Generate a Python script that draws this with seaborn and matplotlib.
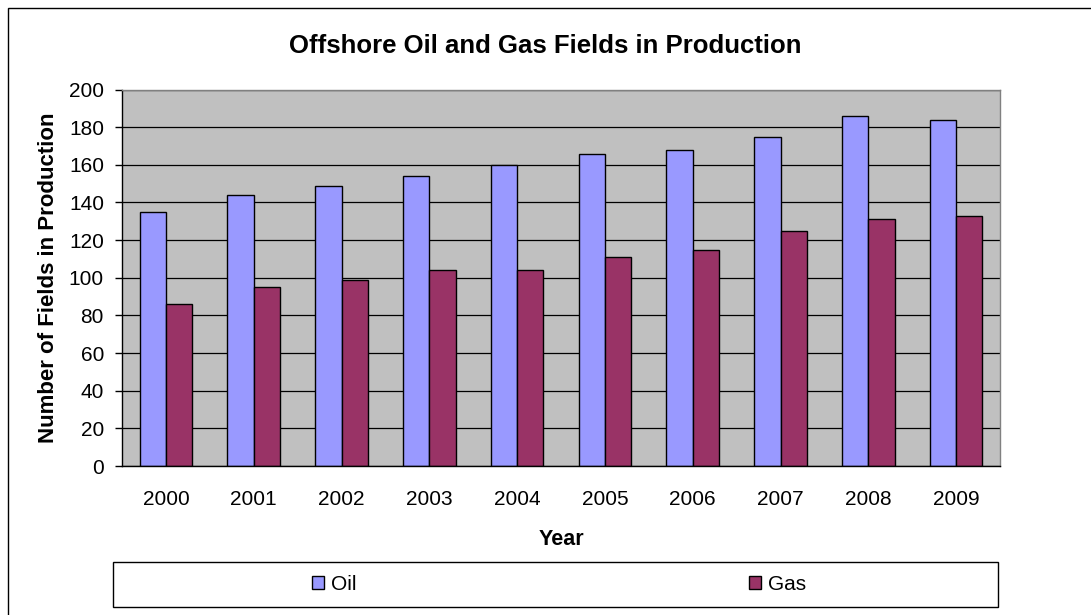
import numpy as np
import pandas as pd
import seaborn as sns
import matplotlib
matplotlib.use("Agg")
import matplotlib.pyplot as plt
from matplotlib.patches import Patch, Rectangle

# data
years = ['2000', '2001', '2002', '2003', '2004', '2005', '2006', '2007', '2008', '2009']
oil = [135, 144, 149, 154, 160, 166, 168, 175, 186, 184]
gas = [86, 95, 99, 104, 104, 111, 115, 125, 131, 133]
series = ['Oil', 'Gas']
colors = ['#9999FF', '#993366']

df = pd.DataFrame({'Year': years * 2,
                   'Fields': oil + gas,
                   'Type': ['Oil'] * len(years) + ['Gas'] * len(years)})

sns.set_style("white")
plt.rcParams['font.family'] = ['Liberation Sans', 'DejaVu Sans']
plt.rcParams['text.color'] = 'black'
plt.rcParams['axes.labelcolor'] = 'black'
plt.rcParams['xtick.color'] = 'black'
plt.rcParams['ytick.color'] = 'black'

W, H = 1091, 615
fig = plt.figure(figsize=(W / 100, H / 100), dpi=100)
ax = fig.add_axes([122 / W, 1 - 466 / H, (1000 - 122) / W, (466 - 89.5) / H])
ax.set_facecolor('#C0C0C0')

sns.barplot(data=df, x='Year', y='Fields', hue='Type', hue_order=series,
            palette=colors, width=0.6, edgecolor='black', linewidth=1,
            saturation=1, legend=False, ax=ax)

ax.set_ylim(0, 200)
ax.set_xlim(-0.5, len(years) - 0.5)
ax.set_yticks(np.arange(0, 201, 20))
ax.yaxis.grid(True, color='black', linewidth=0.9)
ax.set_axisbelow(True)

# category ticks between the groups, like the excel original
ax.set_xticks(np.arange(-0.5, len(years), 1), minor=True)
ax.tick_params(axis='x', which='major', length=0, pad=17, labelsize=15)
ax.tick_params(axis='x', which='minor', length=5, width=1, color='black', direction='out')
ax.tick_params(axis='y', length=5, width=1, color='black', direction='out', pad=8, labelsize=15)
ax.tick_params(bottom=True, left=True)

for s in ['left', 'bottom']:
    ax.spines[s].set_color('black')
    ax.spines[s].set_linewidth(1)
for s in ['top', 'right']:
    ax.spines[s].set_color('#808080')
    ax.spines[s].set_linewidth(1)

ax.set_xlabel('Year', fontsize=15.5, fontweight='bold')
ax.xaxis.set_label_coords(0.5, -0.168)
ax.set_ylabel('Number of Fields in Production', fontsize=16, fontweight='bold')
ax.yaxis.set_label_coords(-0.072, 0.5)

fig.text(0.5, 1 - 46 / H, 'Offshore Oil and Gas Fields in Production',
         ha='center', va='center', fontsize=18.5, fontweight='bold')

# legend box
fig.add_artist(Rectangle((113 / W, 1 - 607 / H), (998 - 113) / W, 45 / H,
                         transform=fig.transFigure, fill=False,
                         edgecolor='black', linewidth=1))
handles = [Patch(facecolor=c, edgecolor='black', linewidth=1, label=s)
           for s, c in zip(series, colors)]
fig.legend(handles=handles, loc='center', bbox_to_anchor=(559 / W, 1 - 584.5 / H),
           ncol=2, frameon=False, fontsize=15, handlelength=0.6, handleheight=0.6,
           handletextpad=0.35, columnspacing=18.8)

# outer chart border
fig.add_artist(Rectangle((8 / W, -0.1), 1.2, 1 - 8 / H + 0.1,
                         transform=fig.transFigure, fill=False,
                         edgecolor='black', linewidth=1))

fig.savefig('out.png', dpi=100)
